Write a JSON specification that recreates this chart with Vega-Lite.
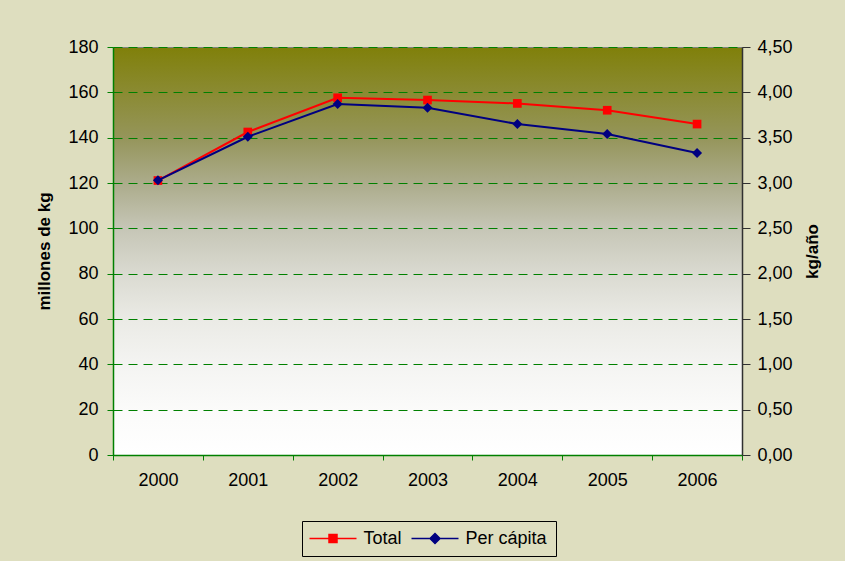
{
  "$schema": "https://vega.github.io/schema/vega-lite/v6.json",
  "width": 629,
  "height": 408,
  "autosize": {"type": "none"},
  "padding": {"left": 113, "top": 47, "right": 103, "bottom": 106},
  "background": "#DEDEBF",
  "config": {
    "font": "Liberation Sans",
    "view": {
      "stroke": "#808080",
      "strokeWidth": 1,
      "fill": {
        "gradient": "linear", "x1": 0, "y1": 0, "x2": 0, "y2": 1,
        "stops": [
          {"offset": 0, "color": "#80800A"},
          {"offset": 0.22, "color": "#95955A"},
          {"offset": 0.33, "color": "#ABAB8A"},
          {"offset": 0.44, "color": "#C5C5B5"},
          {"offset": 0.56, "color": "#DBDBD2"},
          {"offset": 0.67, "color": "#EBEBE6"},
          {"offset": 0.78, "color": "#F4F4F2"},
          {"offset": 0.89, "color": "#FBFBFA"},
          {"offset": 1, "color": "#FFFFFF"}
        ]
      }
    },
    "axis": {
      "labelFont": "Liberation Sans",
      "titleFont": "Liberation Sans",
      "labelFontSize": 18,
      "titleFontSize": 17,
      "titleFontWeight": "bold",
      "labelColor": "#000000",
      "titleColor": "#000000"
    }
  },
  "data": {
    "values": [
      {"year": "2000", "series": "Total", "value": 121.1},
      {"year": "2001", "series": "Total", "value": 142.5},
      {"year": "2002", "series": "Total", "value": 157.6},
      {"year": "2003", "series": "Total", "value": 156.6},
      {"year": "2004", "series": "Total", "value": 155.1},
      {"year": "2005", "series": "Total", "value": 152.1},
      {"year": "2006", "series": "Total", "value": 146.0},
      {"year": "2000", "series": "Per cápita", "value": 3.03},
      {"year": "2001", "series": "Per cápita", "value": 3.51},
      {"year": "2002", "series": "Per cápita", "value": 3.87},
      {"year": "2003", "series": "Per cápita", "value": 3.83},
      {"year": "2004", "series": "Per cápita", "value": 3.65},
      {"year": "2005", "series": "Per cápita", "value": 3.54},
      {"year": "2006", "series": "Per cápita", "value": 3.33}
    ]
  },
  "encoding": {
    "x": {
      "field": "year",
      "type": "ordinal",
      "scale": {"paddingInner": 0, "paddingOuter": 0},
      "axis": {
        "title": null,
        "labelAngle": 0,
        "domainColor": "#008000",
        "domainWidth": 1.5,
        "tickColor": "#008000",
        "tickSize": 5,
        "tickBand": "extent",
        "labelPadding": 11,
        "grid": false
      }
    },
    "color": {
      "field": "series",
      "type": "nominal",
      "scale": {"domain": ["Total", "Per cápita"], "range": ["#FF0000", "#000080"]},
      "legend": {
        "title": null,
        "orient": "none",
        "legendX": 189,
        "legendY": 474,
        "direction": "horizontal",
        "labelFontSize": 18,
        "labelFont": "Liberation Sans",
        "labelColor": "#000000",
        "strokeColor": "#000000",
        "padding": 8.5,
        "columnPadding": 6,
        "symbolSize": 100,
        "symbolStrokeWidth": 1.5,
        "labelOffset": 35,
        "encode": {
          "symbols": {
            "update": {
              "shape": {"signal": "datum.value === 'Total' ? 'M-2,0H7.4M1.9,-0.8H3.5V0.8H1.9Z' : 'M-2,0H7.4M2.7,-1L3.7,0L2.7,1L1.7,0Z'"},
              "fill": {"signal": "datum.value === 'Total' ? '#FF0000' : '#000080'"},
              "stroke": {"signal": "datum.value === 'Total' ? '#FF0000' : '#000080'"},
              "opacity": {"value": 1},
              "fillOpacity": {"value": 1},
              "strokeOpacity": {"value": 1}
            }
          }
        }
      }
    }
  },
  "layer": [
    {
      "transform": [{"filter": "datum.series === 'Total'"}],
      "mark": {"type": "line", "strokeWidth": 2, "point": {"filled": true, "shape": "square", "size": 75, "opacity": 1}},
      "encoding": {
        "y": {
          "field": "value",
          "type": "quantitative",
          "scale": {"domain": [0, 180], "nice": false},
          "axis": {
            "title": "millones de kg",
            "values": [0, 20, 40, 60, 80, 100, 120, 140, 160, 180],
            "orient": "left",
            "domainColor": "#008000",
            "domainWidth": 1.5,
            "tickColor": "#008000",
            "tickSize": 6,
            "labelPadding": 9,
            "titlePadding": 14,
            "grid": true,
            "gridColor": "#008000",
            "gridDash": [9, 6],
            "gridWidth": 1,
            "gridOpacity": 1
          }
        }
      }
    },
    {
      "transform": [{"filter": "datum.series === 'Per cápita'"}],
      "mark": {"type": "line", "strokeWidth": 2, "point": {"filled": true, "shape": "diamond", "size": 100, "opacity": 1}},
      "encoding": {
        "y": {
          "field": "value",
          "type": "quantitative",
          "scale": {"domain": [0, 4.5], "nice": false},
          "axis": {
            "title": "kg/año",
            "titleAngle": 270,
            "values": [0, 0.5, 1, 1.5, 2, 2.5, 3, 3.5, 4, 4.5],
            "labelExpr": "replace(format(datum.value, '.2f'), '.', ',')",
            "orient": "right",
            "domainColor": "#303030",
            "domainWidth": 1.5,
            "tickColor": "#303030",
            "tickSize": 8,
            "labelPadding": 7,
            "titlePadding": 29,
            "grid": false
          }
        }
      }
    }
  ],
  "resolve": {"scale": {"y": "independent"}}
}
